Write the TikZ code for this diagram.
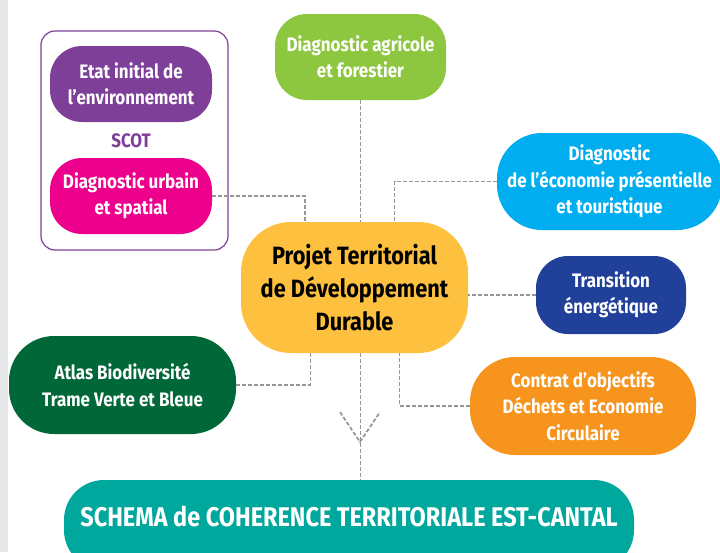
\documentclass[tikz,border=0pt]{standalone}
\usepackage{fontspec}
\usetikzlibrary{positioning,calc}
\newfontfamily\boxfont[FakeStretch=0.87]{Fira Sans}
\definecolor{sidegray}{RGB}{230,231,232}
\definecolor{linkgray}{RGB}{150,150,150}
\definecolor{envpurple}{RGB}{125,63,152}
\definecolor{urbmagenta}{RGB}{236,0,140}
\definecolor{agrigreen}{RGB}{141,198,63}
\definecolor{ecoblue}{RGB}{0,174,239}
\definecolor{transblue}{RGB}{33,64,154}
\definecolor{projyellow}{RGB}{253,193,63}
\definecolor{atlasgreen}{RGB}{0,104,56}
\definecolor{contratorange}{RGB}{247,148,29}
\definecolor{schemateal}{RGB}{0,167,157}

\begin{document}
\begin{tikzpicture}[x=1pt, y=-1pt,
    box/.style={rectangle, rounded corners=32pt, align=center, text=white, inner sep=0pt,
        font=\boxfont\bfseries\fontsize{19.5}{26.5}\selectfont},
    bigbox/.style={box, rounded corners=50pt, text=black,
        font=\boxfont\bfseries\fontsize{25}{33}\selectfont},
    link/.style={draw=linkgray, line width=1.7pt, dash pattern=on 4pt off 2pt}
]
\useasboundingbox (0,0) rectangle (720,552);
\fill[sidegray] (0,0) rectangle (8,552);

% SCOT frame with its two diagnostics
\node[draw=envpurple, line width=1.2pt, rounded corners=14pt, minimum width=187pt, minimum height=219pt] (scot-frame) at (134.5,140.5) {};
\node[box, fill=envpurple, minimum width=162pt, minimum height=76pt] (etat) at (131,84) {Etat initial de\\l’environnement};
\node[font=\boxfont\bfseries\fontsize{19.5}{26}\selectfont, text=envpurple] (scot) at (131,141) {SCOT};
\node[box, fill=urbmagenta, minimum width=162pt, minimum height=76pt] (urbain) at (131,196) {Diagnostic urbain\\et spatial};

% themes around the project
\node[box, fill=agrigreen, minimum width=171pt, minimum height=86pt] (agri) at (360.5,57) {Diagnostic agricole\\et forestier};
\node[box, fill=ecoblue, minimum width=225pt, minimum height=97pt, rounded corners=45pt] (eco) at (609.5,181.5) {Diagnostic\\de l’économie présentielle\\et touristique};
\node[box, fill=transblue, minimum width=150pt, minimum height=78pt] (trans) at (611,295) {Transition\\énergétique};
\node[box, fill=atlasgreen, minimum width=227pt, minimum height=98pt, rounded corners=45pt] (atlas) at (122.5,385) {Atlas Biodiversité\\Trame Verte et Bleue};
\node[box, fill=contratorange, minimum width=226pt, minimum height=98pt, rounded corners=45pt] (contrat) at (583,406) {Contrat d’objectifs\\Déchets et Economie\\Circulaire};

% central project
\node[bigbox, fill=projyellow, minimum width=227pt, minimum height=131pt] (projet) at (354.5,287.5) {Projet Territorial\\de Développement\\Durable};

% SCOT at the bottom
\node[box, fill=schemateal, minimum width=570pt, minimum height=90pt, rounded corners=40pt] (schema) at (349,525) {};
\node[font=\boxfont\bfseries\fontsize{27}{30}\selectfont, text=white] (schema-text) at (349,516) {SCHEMA de COHERENCE TERRITORIALE EST-CANTAL};

% dashed links
\draw[link] (urbain.east) -| ([xshift=-49.5pt]projet.north);
\draw[link] (agri.south) -- (agri.south |- projet.north);
\draw[link] (eco.west) -| ([xshift=40pt]projet.north);
\draw[link] (trans.west) -- (projet.east |- trans.west);
\draw[link] (atlas.east) -| ([xshift=-44pt]projet.south);
\draw[link] (contrat.west) -| ([xshift=45pt]projet.south);
\draw[link] (agri.south |- projet.south) -- (agri.south |- schema.north);
\coordinate (tip) at (360,442);
\draw[link] ([shift={(-20,-30)}]tip) -- (tip) -- ([shift={(20,-30)}]tip);
\end{tikzpicture}
\end{document}
